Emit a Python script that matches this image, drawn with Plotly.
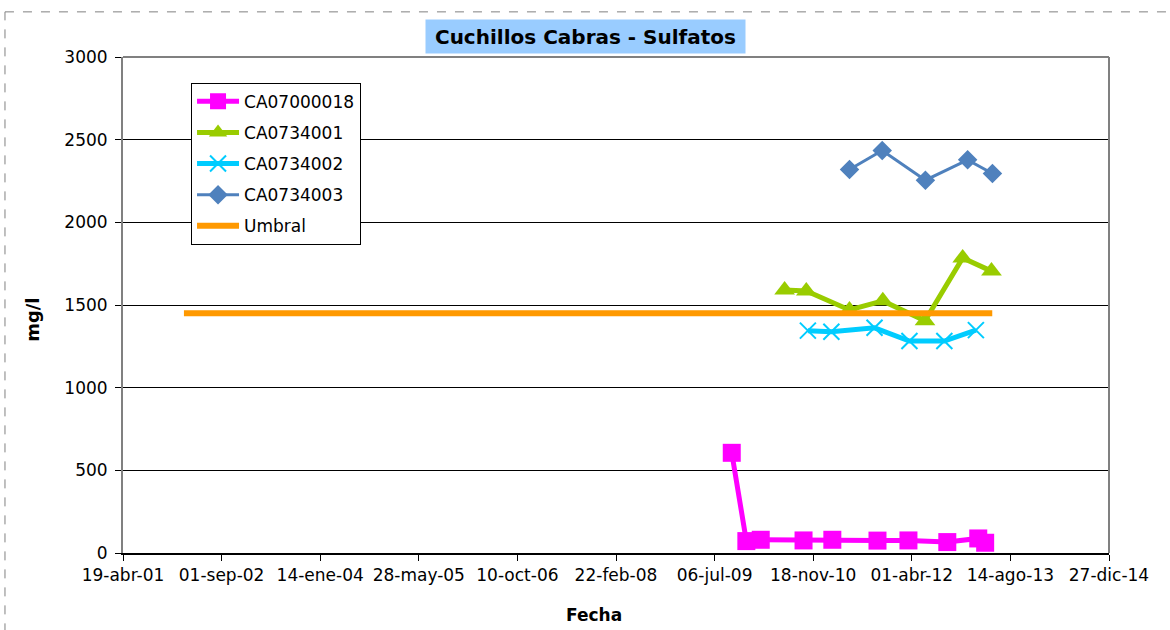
import plotly.graph_objects as go

# data
fechas_ca07000018 = ['2009-10-01', '2009-12-14', '2010-02-25', '2010-09-30', '2011-02-23',
                     '2011-10-10', '2012-03-15', '2012-09-28', '2013-03-04', '2013-04-08']
ca07000018 = [606, 72, 80, 76, 80, 75, 76, 66, 88, 62]

fechas_ca0734001 = ['2010-06-26', '2010-10-14', '2011-05-21', '2011-11-06',
                    '2012-06-07', '2012-12-15', '2013-05-10']
ca0734001 = [1590, 1585, 1470, 1525, 1405, 1785, 1705]

fechas_ca0734002 = ['2010-10-22', '2011-02-18', '2011-09-25', '2012-03-20',
                    '2012-09-13', '2013-02-20']
ca0734002 = [1345, 1338, 1362, 1282, 1282, 1348]

fechas_ca0734003 = ['2011-05-21', '2011-11-03', '2012-06-09', '2013-01-09', '2013-05-15']
ca0734003 = [2320, 2435, 2255, 2378, 2295]

fechas_umbral = ['2002-02-22', '2013-05-14']
umbral = [1450, 1450]

tick_fechas = ['2001-04-19', '2002-09-01', '2004-01-14', '2005-05-28', '2006-10-10',
               '2008-02-22', '2009-07-06', '2010-11-18', '2012-04-01', '2013-08-14',
               '2014-12-27']
tick_textos = ['19-abr-01', '01-sep-02', '14-ene-04', '28-may-05', '10-oct-06',
               '22-feb-08', '06-jul-09', '18-nov-10', '01-abr-12', '14-ago-13',
               '27-dic-14']

FONT = 'DejaVu Sans'

fig = go.Figure()

fig.add_trace(go.Scatter(
              x = fechas_ca07000018, y = ca07000018,
              mode = 'lines+markers', name = 'CA07000018',
              legendgroup = 'a',
              line = dict(color = '#FF00FF', width = 5),
              marker = dict(symbol = 'square', size = 18, color = '#FF00FF')))

fig.add_trace(go.Scatter(
              x = fechas_ca0734001, y = ca0734001,
              mode = 'lines+markers', name = 'CA0734001',
              legendgroup = 'b',
              line = dict(color = '#99CC00', width = 5),
              marker = dict(symbol = 'triangle-up', size = 18, color = '#99CC00')))

fig.add_trace(go.Scatter(
              x = fechas_ca0734002, y = ca0734002,
              mode = 'lines+markers', name = 'CA0734002',
              legendgroup = 'c',
              line = dict(color = '#00CCFF', width = 5),
              marker = dict(symbol = 'x-thin', size = 16, color = '#00CCFF',
                            line = dict(color = '#00CCFF', width = 2))))

fig.add_trace(go.Scatter(
              x = fechas_ca0734003, y = ca0734003,
              mode = 'lines+markers', name = 'CA0734003',
              legendgroup = 'd',
              line = dict(color = '#4F81BD', width = 3),
              marker = dict(symbol = 'diamond', size = 15, color = '#4F81BD')))

fig.add_trace(go.Scatter(
              x = fechas_umbral, y = umbral,
              mode = 'lines', name = 'Umbral',
              legendgroup = 'e',
              line = dict(color = '#FF9900', width = 6)))

fig.update_xaxes(type = 'date',
                 range = [tick_fechas[0], tick_fechas[-1]],
                 tickvals = tick_fechas, ticktext = tick_textos,
                 showgrid = False,
                 showline = True, linecolor = 'black', linewidth = 2,
                 ticks = 'outside', ticklen = 6, tickcolor = 'black',
                 tickfont = dict(family = FONT, size = 17, color = 'black'))

fig.update_yaxes(range = [0, 3000], dtick = 500,
                 showgrid = True, gridcolor = 'black', gridwidth = 1,
                 zeroline = False,
                 showline = True, linecolor = '#808080', linewidth = 2,
                 ticks = 'outside', ticklen = 6, tickcolor = 'black',
                 ticklabelstandoff = 4,
                 tickfont = dict(family = FONT, size = 17, color = 'black'))

# plot area border (top and right) and dashed outer chart border
fig.add_shape(type = 'line', xref = 'paper', yref = 'paper',
              x0 = 0, x1 = 1, y0 = 1, y1 = 1,
              line = dict(color = '#808080', width = 2))
fig.add_shape(type = 'line', xref = 'paper', yref = 'paper',
              x0 = 1, x1 = 1, y0 = 0, y1 = 1,
              line = dict(color = '#808080', width = 2))
fig.add_shape(type = 'line', xref = 'paper', yref = 'paper',
              x0 = -0.1197, x1 = 1.07, y0 = 1.091, y1 = 1.091,
              line = dict(color = '#808080', width = 1, dash = 'dash'))
fig.add_shape(type = 'line', xref = 'paper', yref = 'paper',
              x0 = -0.1197, x1 = -0.1197, y0 = -0.16, y1 = 1.091,
              line = dict(color = '#808080', width = 1, dash = 'dash'))

fig.add_annotation(text = '<b>Cuchillos Cabras - Sulfatos</b>',
                   xref = 'paper', yref = 'paper', x = 0.469, y = 1.0413,
                   xanchor = 'center', yanchor = 'middle',
                   showarrow = False, bgcolor = '#99CCFF',
                   width = 317, height = 31,
                   font = dict(family = FONT, size = 20, color = 'black'))

fig.add_annotation(text = '<b>Fecha</b>',
                   xref = 'paper', yref = 'paper', x = 0.4777, y = -0.125,
                   xanchor = 'center', yanchor = 'middle',
                   showarrow = False,
                   font = dict(family = FONT, size = 17, color = 'black'))

fig.add_annotation(text = '<b>mg/l</b>', textangle = -90,
                   xref = 'paper', yref = 'paper', x = -0.0913, y = 0.47,
                   xanchor = 'center', yanchor = 'middle',
                   showarrow = False,
                   font = dict(family = FONT, size = 18, color = 'black'))

fig.update_layout(width = 1170, height = 630,
                  margin = dict(l = 123, r = 61, t = 57, b = 77),
                  paper_bgcolor = 'white', plot_bgcolor = 'white',
                  showlegend = True,
                  legend = dict(x = 0.069, y = 0.948, xanchor = 'left', yanchor = 'top',
                                bgcolor = 'white', bordercolor = 'black', borderwidth = 1,
                                tracegroupgap = 6, itemwidth = 42,
                                font = dict(family = FONT, size = 17, color = 'black')))

# drop the page's default body margin so the figure sits at the window corner
fig.write_html("out.html", config = {'displayModeBar': False},
               post_script = "document.body.style.margin = '0px';")
